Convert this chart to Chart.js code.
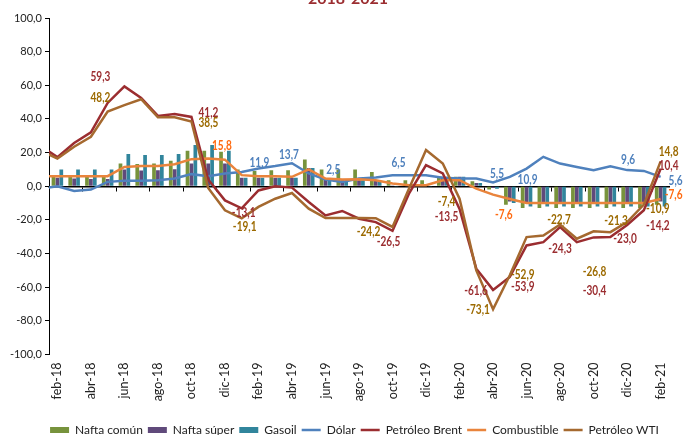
<!DOCTYPE html>
<html>
<head>
<meta charset="utf-8">
<script src="https://cdn.jsdelivr.net/npm/chart.js@4.4.1/dist/chart.umd.min.js"></script>
<style>
  html, body { margin: 0; padding: 0; background: #fff; }
  #wrap { position: relative; width: 686px; height: 435px; }
</style>
</head>
<body>
<div id="wrap"><canvas id="grafico" width="686" height="435"></canvas></div>
<script>
// Meses (ene-18 queda fuera del eje, sólo alimenta el primer tramo de las líneas)
const meses = ['ene-18', 'feb-18', 'mar-18', 'abr-18', 'may-18', 'jun-18', 'jul-18', 'ago-18', 'sep-18', 'oct-18', 'nov-18', 'dic-18',
  'ene-19', 'feb-19', 'mar-19', 'abr-19', 'may-19', 'jun-19', 'jul-19', 'ago-19', 'sep-19', 'oct-19', 'nov-19', 'dic-19',
  'ene-20', 'feb-20', 'mar-20', 'abr-20', 'may-20', 'jun-20', 'jul-20', 'ago-20', 'sep-20', 'oct-20', 'nov-20', 'dic-20',
  'ene-21', 'feb-21'];

const naftaComun = [null, 6, 5.5, 6, 5.6, 13.5, 13.2, 13.5, 15.1, 21.1, 21.1, 20.5,
  10, 9, 9.5, 9.5, 15.9, 10, 10, 10, 8.5, 3.6, 3.6, 3.6,
  5.6, 5.6, 3, -2, -11, -13, -13, -13, -13, -13, -13, -13,
  -13, -11];
const naftaSuper = [null, 5, 4.6, 4.3, 4.3, 10, 9.3, 9.5, 10.1, 13.5, 13.5, 13.5,
  5, 5, 5, 5, 10.9, 4, 3.6, 3.6, 3.6, 0.5, 0.5, 0.5,
  5.6, 5.6, 2, -1, -9, -10, -10, -10, -10, -10, -10, -10,
  -10, -9];
const gasoil = [null, 10, 10, 10, 10, 19.1, 18.5, 18.5, 19.1, 24.5, 24.5, 21.1,
  5, 5, 5, 5, 10.9, 3.6, 2.6, 3.6, 3, -0.5, -0.5, -0.5,
  5.6, 5.6, 2, -1.5, -10, -12, -12, -12, -12, -12, -12, -12,
  -12, -12];
const dolar = [-1.5, 0, -2.8, -2, 2.6, 3.2, 3.2, 3.6, 4.6, 7.2, 6, 7.6,
  8.5, 10.6, 12, 13.7, 7.6, 4, 2.5, 4.6, 5.2, 6.5, 6.5, 6.5,
  5, 4.6, 4.6, 2.2, 5.6, 10.5, 17.5, 13.5, 11.5, 9.5, 11.9, 9.6,
  9.1, 5.6];
const brent = [24, 17.3, 25.7, 32, 49.5, 59.3, 52.5, 41.8, 43, 41.2, 4, -8.4,
  -13.1, -2.5, 0, -0.8, -9.4, -17.3, -14.7, -19.3, -21.3, -26.5, -4, 12.5,
  7.6, -13.5, -49, -61.6, -53.9, -35.2, -33.2, -24.3, -33.2, -30.4, -30.2, -23.0,
  -14.2, 10.4];
const combustible = [6, 6, 6, 6, 6, 11.5, 12, 12, 13.1, 16.1, 16.5, 15.8,
  6.6, 6, 6, 5.6, 10, 4.6, 4, 4.2, 3.6, 1.6, 0.6, 0.6,
  3.6, 3.6, -1.4, -5, -7.6, -10, -10, -10, -10, -10, -10, -10,
  -10, -7.6];
const wti = [21, 16.5, 23.5, 29.4, 44.4, 48.2, 51.7, 41, 41, 38.5, -1, -14.3,
  -19.1, -12.3, -7.4, -4, -13.3, -18.9, -18.9, -18.9, -19, -24.2, -1, 21.5,
  13.5, -7.4, -50, -73.1, -52.9, -30.2, -29.3, -22.7, -31.2, -26.8, -27.3, -21.3,
  -10.9, 14.8];

const colores = {
  comun: '#77933c', super: '#604a7b', gasoil: '#31859c',
  dolar: '#4f81bd', brent: '#9b2d30', combustible: '#e9843c', wti: '#a5692f'
};

// Etiquetas de valor: serie, mes, texto y desplazamiento respecto del punto
const etiquetas = [
  ['Petróleo Brent', 'jun-18', '59,3', -24, -10],
  ['Petróleo WTI', 'jun-18', '48,2', -24, -8],
  ['Petróleo Brent', 'oct-18', '41,2', 17, -4],
  ['Petróleo WTI', 'oct-18', '38,5', 17, 1],
  ['Combustible', 'dic-18', '15,8', -3, -14],
  ['Petróleo Brent', 'ene-19', '-13,1', 2, 4],
  ['Petróleo WTI', 'ene-19', '-19,1', 3, 8],
  ['Dólar', 'feb-19', '11,9', 1, -6],
  ['Dólar', 'abr-19', '13,7', -3, -9],
  ['Dólar', 'jul-19', '2,5', -9, -13],
  ['Dólar', 'oct-19', '6,5', 6, -13],
  ['Petróleo WTI', 'oct-19', '-24,2', -24, 5],
  ['Petróleo Brent', 'oct-19', '-26,5', -4, 11],
  ['Petróleo WTI', 'feb-20', '-7,4', -13, 3],
  ['Petróleo Brent', 'feb-20', '-13,5', -13, 8],
  ['Dólar', 'abr-20', '5,5', 4, -9],
  ['Dólar', 'jun-20', '10,9', 1, 11],
  ['Combustible', 'may-20', '-7,6', -6, 15],
  ['Petróleo Brent', 'abr-20', '-61,6', -17, 1],
  ['Petróleo WTI', 'abr-20', '-73,1', -15, 0],
  ['Petróleo WTI', 'may-20', '-52,9', 13, -1],
  ['Petróleo Brent', 'may-20', '-53,9', 13, 10],
  ['Petróleo WTI', 'ago-20', '-22,7', -1, -5],
  ['Petróleo Brent', 'ago-20', '-24,3', 0, 21],
  ['Petróleo WTI', 'oct-20', '-26,8', 1, 40],
  ['Petróleo Brent', 'oct-20', '-30,4', 1, 53],
  ['Petróleo WTI', 'dic-20', '-21,3', -11, -2],
  ['Petróleo Brent', 'dic-20', '-23,0', -2, 14],
  ['Dólar', 'dic-20', '9,6', 1, -11],
  ['Petróleo WTI', 'ene-21', '-10,9', 14, 4],
  ['Petróleo Brent', 'ene-21', '-14,2', 14, 15],
  ['Petróleo WTI', 'feb-21', '14,8', 8, -10],
  ['Petróleo Brent', 'feb-21', '10,4', 8, -3],
  ['Dólar', 'feb-21', '5,6', 15, 4],
  ['Combustible', 'feb-21', '-7,6', 13, -5]
];
const coloresEtiqueta = {
  'Petróleo Brent': '#9b2d30', 'Petróleo WTI': '#9c6a00',
  'Combustible': '#ff6a10', 'Dólar': '#4f81bd'
};

const fuente = 'Lato, "Open Sans", sans-serif';

// Plugin para las etiquetas de valor y el título recortado
const etiquetasPlugin = {
  id: 'etiquetas',
  afterLayout(chart) {
    // la leyenda está corrida a la derecha en el original
    chart.legend.left += 20;
    chart.legend.right += 20;
  },
  afterDatasetsDraw(chart) {
    const ctx = chart.ctx;
    const xs = chart.scales.x, ys = chart.scales.y;
    ctx.save();
    ctx.font = 'bold 14px ' + fuente;
    ctx.textAlign = 'center';
    ctx.textBaseline = 'middle';
    etiquetas.forEach(([serie, mes, texto, dx, dy]) => {
      const ds = chart.data.datasets.find(d => d.label === serie);
      const i = meses.indexOf(mes);
      const x = xs.getPixelForValue(i) + dx;
      const y = ys.getPixelForValue(ds.data[i]) + dy;
      ctx.save();
      ctx.translate(x, y);
      ctx.scale(0.72, 1);
      ctx.fillStyle = coloresEtiqueta[serie];
      ctx.fillText(texto, 0, 0);
      ctx.restore();
    });
    // título (sólo se ve el borde inferior)
    ctx.font = 'bold 16px ' + fuente;
    ctx.fillStyle = '#9b2d30';
    ctx.textBaseline = 'alphabetic';
    ctx.fillText('2018-2021', 348, 4);
    ctx.restore();
  }
};

const ctx = document.getElementById('grafico');
new Chart(ctx, {
  type: 'bar',
  data: {
    labels: meses,
    datasets: [
      { label: 'Nafta común', data: naftaComun, backgroundColor: colores.comun, order: 10, pointStyle: 'rect' },
      { label: 'Nafta súper', data: naftaSuper, backgroundColor: colores.super, order: 10, pointStyle: 'rect' },
      { label: 'Gasoil', data: gasoil, backgroundColor: colores.gasoil, order: 10, pointStyle: 'rect' },
      { type: 'line', label: 'Dólar', data: dolar, borderColor: colores.dolar, backgroundColor: colores.dolar, borderWidth: 2.5, pointRadius: 0, pointStyle: 'line', order: 4 },
      { type: 'line', label: 'Petróleo Brent', data: brent, borderColor: colores.brent, backgroundColor: colores.brent, borderWidth: 2.5, pointRadius: 0, pointStyle: 'line', order: 2 },
      { type: 'line', label: 'Combustible', data: combustible, borderColor: colores.combustible, backgroundColor: colores.combustible, borderWidth: 2.5, pointRadius: 0, pointStyle: 'line', order: 3 },
      { type: 'line', label: 'Petróleo WTI', data: wti, borderColor: colores.wti, backgroundColor: colores.wti, borderWidth: 2.5, pointRadius: 0, pointStyle: 'line', order: 1 }
    ]
  },
  options: {
    responsive: false,
    animation: false,
    datasets: { bar: { categoryPercentage: 0.7, barPercentage: 0.95 } },
    layout: { padding: { top: 18, right: 17, bottom: -11, left: 0 } },
    scales: {
      x: {
        type: 'category',
        min: 'feb-18',
        offset: true,
        grid: { display: false, drawTicks: false },
        border: { display: false },
        ticks: {
          autoSkip: false, maxRotation: 90, minRotation: 90, padding: 8,
          color: '#222', font: { family: fuente, size: 12.5 },
          callback(v) { return (v - 1) % 2 === 0 ? this.getLabelForValue(v) : ''; }
        },
        afterFit(s) { s.height = 64.5; }
      },
      x2: {
        type: 'category',
        position: { y: 0 },
        min: 'feb-18',
        offset: true,
        grid: {
          offset: true, drawOnChartArea: false, drawTicks: true, tickLength: 4, lineWidth: 1,
          color: c => (c.tick && (c.tick.value - 1) % 2 === 0) ? '#000' : 'rgba(0,0,0,0)'
        },
        border: { display: true, color: '#000', width: 1.5 },
        ticks: { display: false }
      },
      y: {
        min: -100, max: 100,
        ticks: {
          stepSize: 20, padding: 3, color: '#222', font: { family: fuente, size: 11 },
          callback: v => v.toFixed(1).replace('.', ',')
        },
        grid: { drawOnChartArea: false, tickLength: 4, color: '#000' },
        border: { color: '#000', width: 1 },
        afterFit(s) { s.width = 49; }
      }
    },
    plugins: {
      tooltip: { enabled: false },
      legend: {
        position: 'bottom',
        labels: {
          usePointStyle: true, pointStyleWidth: 19, boxHeight: 6, padding: 5,
          color: '#222', font: { family: fuente, size: 12 },
          sort: (a, b) => a.datasetIndex - b.datasetIndex
        }
      }
    }
  },
  plugins: [etiquetasPlugin]
});
</script>
</body>
</html>
